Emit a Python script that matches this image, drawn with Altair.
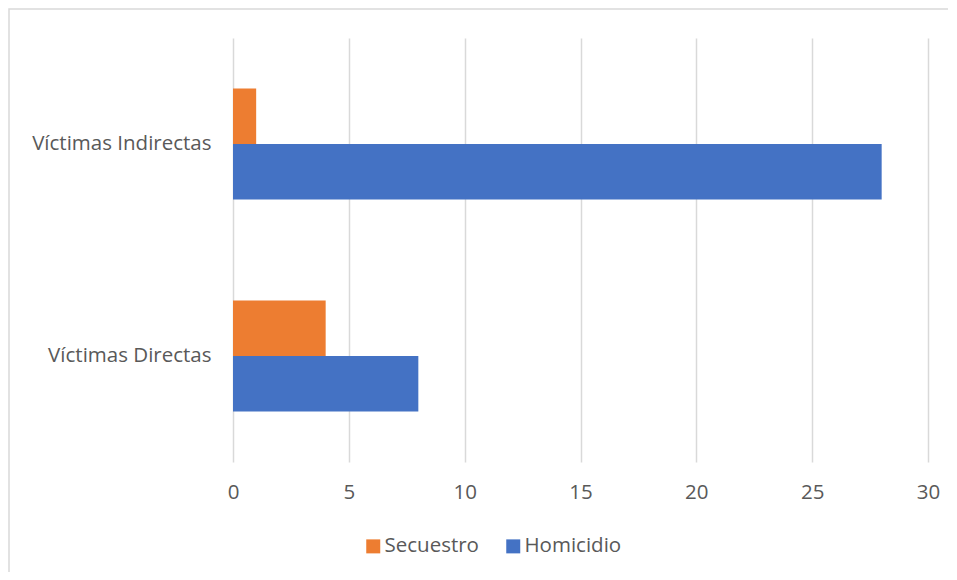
import altair as alt
import pandas as pd

categories = ["Víctimas Indirectas", "Víctimas Indirectas", "Víctimas Directas", "Víctimas Directas"]
series = ["Secuestro", "Homicidio", "Secuestro", "Homicidio"]
values = [1, 28, 4, 8]

cat_order = ["Víctimas Indirectas", "Víctimas Directas"]
series_order = ["Secuestro", "Homicidio"]
colors = ["#ED7D31", "#4472C4"]
x_ticks = [0, 5, 10, 15, 20, 25, 30]

df = pd.DataFrame({"categoria": categories, "serie": series, "valor": values})

FONT = "Open Sans"
FS = 20.5
TXT = "#595959"

bars = alt.Chart(df).mark_bar().encode(
    x=alt.X("valor:Q",
            scale=alt.Scale(domain=[0, 30], nice=False),
            axis=alt.Axis(values=x_ticks, title=None, domain=False, ticks=False,
                          grid=True, gridColor="#d9d9d9", gridWidth=1.5,
                          labelFlush=False,
                          labelFont=FONT, labelFontSize=FS, labelColor=TXT,
                          labelPadding=20)),
    y=alt.Y("categoria:N", sort=cat_order,
            scale=alt.Scale(paddingInner=0.477, paddingOuter=0.2385),
            axis=alt.Axis(title=None, domain=False, ticks=False, grid=False,
                          labelFont=FONT, labelFontSize=FS, labelColor=TXT,
                          labelPadding=22)),
    yOffset=alt.YOffset("serie:N", sort=series_order,
                        scale=alt.Scale(paddingInner=0, paddingOuter=0)),
    color=alt.Color("serie:N", sort=series_order,
                    scale=alt.Scale(domain=series_order, range=colors),
                    legend=alt.Legend(title=None, orient="none", direction="horizontal",
                                      legendX=130, legendY=498, padding=0,
                                      symbolType="square", symbolSize=196,
                                      symbolStrokeWidth=0,
                                      labelFont=FONT, labelFontSize=FS, labelColor=TXT,
                                      columnPadding=24, labelOffset=1)),
)

border = alt.Chart(pd.DataFrame({"k": [0]})).mark_rect(
    fillOpacity=0, stroke="#d9d9d9", strokeWidth=1.5
).encode(
    x=alt.value(-224), x2=alt.value(900),
    y=alt.value(-29), y2=alt.value(700),
)

chart = alt.layer(border, bars).properties(
    width=695, height=424,
    padding={"left": 225, "top": 30, "right": 20, "bottom": 110},
    autosize=alt.AutoSizeParams(type="none"),
    background="white",
).configure_view(strokeWidth=0)

chart.save("out.html", embed_options={"renderer": "svg", "actions": False})
